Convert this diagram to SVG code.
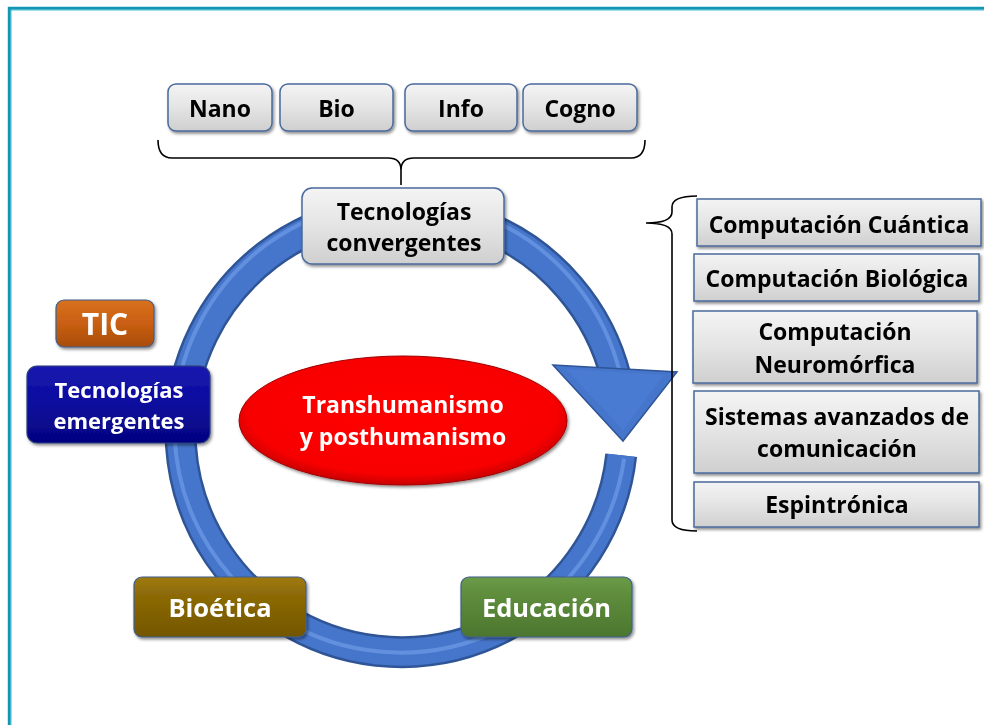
<svg xmlns="http://www.w3.org/2000/svg" width="984" height="725" viewBox="0 0 984 725">
<defs>
<linearGradient id="gGray" x1="0" y1="0" x2="0" y2="1"><stop offset="0" stop-color="#f4f4f4"/><stop offset="0.5" stop-color="#e4e4e4"/><stop offset="1" stop-color="#cfcfcf"/></linearGradient>
<linearGradient id="gOrange" x1="0" y1="0" x2="0" y2="1"><stop offset="0" stop-color="#d8711f"/><stop offset="0.5" stop-color="#c95f12"/><stop offset="1" stop-color="#a84c0b"/></linearGradient>
<linearGradient id="gBlue" x1="0" y1="0" x2="0" y2="1"><stop offset="0" stop-color="#1a1ab0"/><stop offset="0.5" stop-color="#0a0a9e"/><stop offset="1" stop-color="#050580"/></linearGradient>
<linearGradient id="gBrown" x1="0" y1="0" x2="0" y2="1"><stop offset="0" stop-color="#a07a10"/><stop offset="0.3" stop-color="#8c6a06"/><stop offset="1" stop-color="#735603"/></linearGradient>
<linearGradient id="gGreen" x1="0" y1="0" x2="0" y2="1"><stop offset="0" stop-color="#6b9b48"/><stop offset="0.3" stop-color="#5e8d3c"/><stop offset="1" stop-color="#4c762f"/></linearGradient>
<radialGradient id="gRed" cx="0.5" cy="0.45" r="0.55"><stop offset="0" stop-color="#ff0000"/><stop offset="0.85" stop-color="#f80000"/><stop offset="1" stop-color="#c80000"/></radialGradient>
<filter id="sh" x="-10%" y="-10%" width="125%" height="130%"><feDropShadow dx="1.5" dy="2" stdDeviation="1.5" flood-color="#000" flood-opacity="0.45"/></filter>
</defs>
<style>
.t{font-family:"Open Sans","Liberation Sans",sans-serif;font-weight:bold;font-size:23px;text-anchor:middle}
.dk{fill:#000}
.wh{fill:#fff}
.gbox{fill:url(#gGray);stroke:#4a6a9c;stroke-width:1.5}
.brace{fill:none;stroke:#000;stroke-width:1.6}
</style>
<!-- frame -->
<path d="M9.3,725 V8.3 H984" fill="none" stroke="#1296b2" stroke-width="3"/>
<path d="M11,725 V10 H984" fill="none" stroke="#45bdd3" stroke-width="1"/>

<g id="connectors">
<!-- cycle ring -->
<path d="M621.2,455.2 A221,221 0 1 1 615.9,377.5" fill="none" stroke="#2f5597" stroke-width="32"/>
<path d="M621.2,455.2 A221,221 0 1 1 615.9,377.5" fill="none" stroke="#4676cc" stroke-width="27"/>
<path d="M624.1,458.6 A226,226 0 1 1 620.7,376.3" fill="none" stroke="#6f9be6" stroke-width="4" opacity="0.7"/>
<polygon points="553,365 677,372 623,441" fill="#4676cc" stroke="#2f5597" stroke-width="1.5" stroke-linejoin="miter"/>
<polygon points="566,369 664,375 623,430" fill="#4a7bd2"/>
<!-- braces -->
<path class="brace" d="M158,140 Q158,158 172,158 L388,158 Q401,158 401,170 L401,185 M645,140 Q645,158 631,158 L414,158 Q401,158 401,170"/>
<path class="brace" d="M697,196 Q672,196 672,207 L672,212 Q672,223 646,223 Q672,223 672,234 L672,520 Q672,531 697,531"/>
</g>

<g id="nano" filter="url(#sh)"><rect class="gbox" x="168" y="84" width="104" height="47" rx="8"/><text class="t dk" x="220" y="117">Nano</text></g>
<g id="bio" filter="url(#sh)"><rect class="gbox" x="280" y="84" width="113" height="47" rx="8"/><text class="t dk" x="336.5" y="117">Bio</text></g>
<g id="info" filter="url(#sh)"><rect class="gbox" x="405" y="84" width="112" height="47" rx="8"/><text class="t dk" x="461" y="117">Info</text></g>
<g id="cogno" filter="url(#sh)"><rect class="gbox" x="523" y="84" width="114" height="47" rx="8"/><text class="t dk" x="580" y="117">Cogno</text></g>

<g id="convergentes" filter="url(#sh)"><rect class="gbox" x="302" y="188" width="202" height="76" rx="10"/><text class="t dk" x="404" y="220">Tecnologías</text><text class="t dk" x="404" y="251">convergentes</text></g>

<g id="tic" filter="url(#sh)"><rect x="56" y="300" width="98" height="47" rx="8" fill="url(#gOrange)" stroke="#3f5f8f" stroke-width="1.2"/><text class="t wh" x="105" y="335" style="font-size:30px">TIC</text></g>

<g id="emergentes" filter="url(#sh)"><rect x="27" y="366" width="183" height="77" rx="10" fill="url(#gBlue)" stroke="#2a3f7a" stroke-width="1.2"/><text class="t wh" x="119" y="398" style="font-size:22px">Tecnologías</text><text class="t wh" x="119" y="429" style="font-size:22px">emergentes</text></g>

<g id="transhumanismo" filter="url(#sh)"><ellipse cx="403" cy="420.5" rx="164" ry="64.5" fill="url(#gRed)" stroke="#a00000" stroke-width="1"/><text class="t wh" x="403" y="413">Transhumanismo</text><text class="t wh" x="403" y="445">y posthumanismo</text></g>

<g id="bioetica" filter="url(#sh)"><rect x="134" y="577" width="172" height="60" rx="8" fill="url(#gBrown)" stroke="#3f5f8f" stroke-width="1.2"/><text class="t wh" x="220" y="617" style="font-size:25.5px">Bioética</text></g>

<g id="educacion" filter="url(#sh)"><rect x="461" y="577" width="171" height="60" rx="8" fill="url(#gGreen)" stroke="#3f5f8f" stroke-width="1.2"/><text class="t wh" x="546.5" y="617" style="font-size:25.5px">Educación</text></g>

<g id="cuantica" filter="url(#sh)"><rect class="gbox" x="697" y="199" width="284" height="47"/><text class="t dk" x="839" y="232.5">Computación Cuántica</text></g>
<g id="biologica" filter="url(#sh)"><rect class="gbox" x="694" y="254" width="285" height="47"/><text class="t dk" x="837" y="287">Computación Biológica</text></g>
<g id="neuromorfica" filter="url(#sh)"><rect class="gbox" x="693" y="311" width="284" height="72"/><text class="t dk" x="835" y="340">Computación</text><text class="t dk" x="835" y="372.5">Neuromórfica</text></g>
<g id="sistemas" filter="url(#sh)"><rect class="gbox" x="694" y="391" width="285" height="82"/><text class="t dk" x="837" y="425">Sistemas avanzados de</text><text class="t dk" x="837" y="457">comunicación</text></g>
<g id="espintronica" filter="url(#sh)"><rect class="gbox" x="694" y="482" width="285" height="45"/><text class="t dk" x="837" y="512.5">Espintrónica</text></g>
</svg>
